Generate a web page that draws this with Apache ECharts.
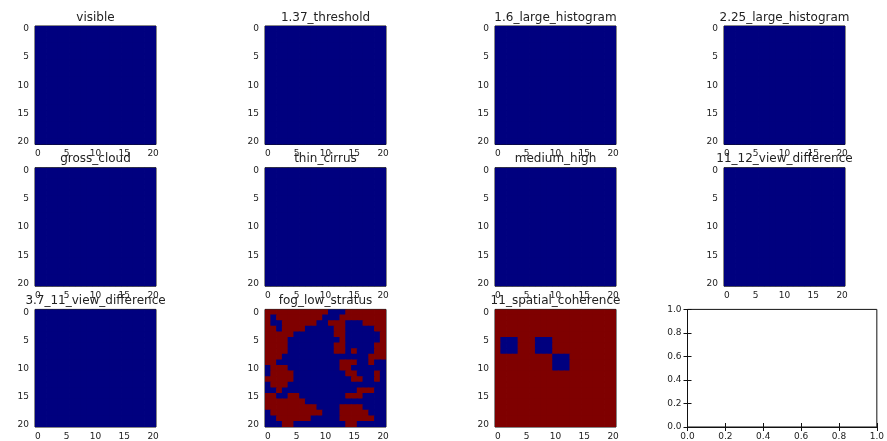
<!DOCTYPE html>
<html><head><meta charset="utf-8">
<script src="https://cdn.jsdelivr.net/npm/echarts@6/dist/echarts.min.js"></script>
<style>html,body{margin:0;padding:0;background:#fff}#c{width:887px;height:441px}</style>
</head><body><div id="c"></div>
<script>
// ---- data ----
const panelTitles = ['visible', '1.37_threshold', '1.6_large_histogram', '2.25_large_histogram',
  'gross_cloud', 'thin_cirrus', 'medium_high', '11_12_view_difference',
  '3.7_11_view_difference', 'fog_low_stratus', '11_spatial_coherence'];
const cellLabels = ['0','1','2','3','4','5','6','7','8','9','10','11','12','13','14','15','16','17','18','19','20'];
const emptyAxisTicks = [0, 0.2, 0.4, 0.6, 0.8, 1.0];
// panels 0..8 are a single uniform value (all at the low end of the colormap)
const uniformPanelValue = 0;
// 1 = high (dark red), 0 = low (navy); rows top to bottom, columns left to right
const fogLowStratus = [
  '11111 11111 10001 11111 1',
  '10111 11111 00011 11111 1',
  '10011 11110 01110 00111 1',
  '11011 11000 00110 00001 1',
  '11111 00000 00110 00000 1',
  '11110 00000 00010 00000 1',
  '11110 00000 00110 00001 1',
  '11110 00000 00110 10001 1',
  '11100 00000 00000 00011 1',
  '11000 00000 00011 10010 0',
  '01110 00000 00011 00000 0',
  '01111 00000 00001 10001 0',
  '11111 00000 00000 11001 0',
  '01110 00000 00000 00000 0',
  '00100 00000 00000 01110 0',
  '11001 10000 00001 11000 0',
  '11111 11000 00000 00000 0',
  '11111 11110 00011 11000 0',
  '01111 11111 00011 11100 0',
  '00111 11100 00011 11110 0',
  '00011 00000 00001 10000 0'
];
const spatialCoherence = [
  '11111 11111 11111 11111 1',
  '11111 11111 11111 11111 1',
  '11111 11111 11111 11111 1',
  '11111 11111 11111 11111 1',
  '11111 11111 11111 11111 1',
  '10001 11000 11111 11111 1',
  '10001 11000 11111 11111 1',
  '10001 11000 11111 11111 1',
  '11111 11111 00011 11111 1',
  '11111 11111 00011 11111 1',
  '11111 11111 00011 11111 1',
  '11111 11111 11111 11111 1',
  '11111 11111 11111 11111 1',
  '11111 11111 11111 11111 1',
  '11111 11111 11111 11111 1',
  '11111 11111 11111 11111 1',
  '11111 11111 11111 11111 1',
  '11111 11111 11111 11111 1',
  '11111 11111 11111 11111 1',
  '11111 11111 11111 11111 1',
  '11111 11111 11111 11111 1'
];

// ---- build ----
function fromRows(rows) {
  const out = [];
  rows.forEach((r, y) => {
    r.replace(/\s/g, '').split('').forEach((ch, x) => out.push([x, y, Number(ch)]));
  });
  return out;
}
function uniform(v) {
  const out = [];
  for (let y = 0; y < cellLabels.length; y++)
    for (let x = 0; x < cellLabels.length; x++) out.push([x, y, v]);
  return out;
}
const panelData = panelTitles.map((t, i) =>
  i === 9 ? fromRows(fogLowStratus) : i === 10 ? fromRows(spatialCoherence) : uniform(uniformPanelValue));

const FONT = 'DejaVu Sans';
const TXT = '#222';
const colLeft = [35, 265, 495, 724];
const rowTop = [26, 167.7, 309.4];
const W = 121, H = 118.5;

function renderCell(params, api) {
  const p = api.coord([api.value(0), api.value(1)]);
  const s = api.size([1, 1]);
  return {
    type: 'rect',
    shape: { x: p[0] - s[0] / 2 - 0.4, y: p[1] - s[1] / 2 - 0.4, width: s[0] + 0.8, height: s[1] + 0.8 },
    style: { fill: api.visual('color') }
  };
}

const grids = [], xAxes = [], yAxes = [], series = [], graphics = [];
panelTitles.forEach((t, i) => {
  const r = Math.floor(i / 4), c = i % 4;
  grids.push({ left: colLeft[c], top: rowTop[r], width: W, height: H, show: true,
    borderColor: '#111', borderWidth: 1, backgroundColor: 'transparent' });
  xAxes.push({ type: 'category', gridIndex: i, data: cellLabels, position: 'bottom',
    axisLine: { show: false }, axisTick: { show: false }, splitLine: { show: false },
    axisLabel: { interval: 4, fontSize: 9, fontFamily: FONT, color: TXT, margin: 5 } });
  yAxes.push({ type: 'category', gridIndex: i, data: cellLabels, inverse: true,
    axisLine: { show: false }, axisTick: { show: false }, splitLine: { show: false },
    axisLabel: { interval: 4, fontSize: 9, fontFamily: FONT, color: TXT, margin: 6 } });
  series.push({ type: 'custom', xAxisIndex: i, yAxisIndex: i, data: panelData[i],
    dimensions: ['col', 'row', 'value'], encode: { x: 0, y: 1 },
    clip: true, renderItem: renderCell, silent: true });
  graphics.push({ type: 'text', x: colLeft[c] + W / 2, y: rowTop[r] - 8.6,
    style: { text: t, fontSize: 12, fontFamily: FONT, fill: TXT,
      align: 'center', verticalAlign: 'middle', textAlign: 'center', textVerticalAlign: 'middle' } });
});

// empty last axes (0..1)
const eg = grids.length;
grids.push({ left: 687.5, top: 309.4, width: 192, height: 118.5, show: true,
  borderColor: '#111', borderWidth: 1, backgroundColor: 'transparent' });
const tickFmt = v => v.toFixed(1);
const baseVal = { type: 'value', gridIndex: eg, min: emptyAxisTicks[0], max: emptyAxisTicks[emptyAxisTicks.length - 1],
  interval: emptyAxisTicks[1] - emptyAxisTicks[0], splitLine: { show: false },
  axisLine: { show: true, lineStyle: { color: '#111', width: 1 } },
  axisTick: { show: true, inside: true, length: 4, lineStyle: { color: '#111' } } };
xAxes.push(Object.assign({}, baseVal, { position: 'bottom',
  axisLabel: { formatter: tickFmt, fontSize: 9, fontFamily: FONT, color: TXT, margin: 5 } }));
xAxes.push(Object.assign({}, baseVal, { position: 'top', axisLabel: { show: false } }));
yAxes.push(Object.assign({}, baseVal, { position: 'left',
  axisLabel: { formatter: tickFmt, fontSize: 9, fontFamily: FONT, color: TXT, margin: 6 } }));
yAxes.push(Object.assign({}, baseVal, { position: 'right', axisLabel: { show: false } }));

const chart = echarts.init(document.getElementById('c'), null, { renderer: 'canvas' });
chart.setOption({
  animation: false,
  backgroundColor: '#fff',
  grid: grids,
  xAxis: xAxes,
  yAxis: yAxes,
  visualMap: {
    type: 'piecewise', show: false, dimension: 2,
    seriesIndex: series.map((s, i) => i),
    pieces: [{ value: 0, color: '#00007f' }, { value: 1, color: '#7f0000' }]
  },
  series: series,
  graphic: graphics
});
</script></body></html>
